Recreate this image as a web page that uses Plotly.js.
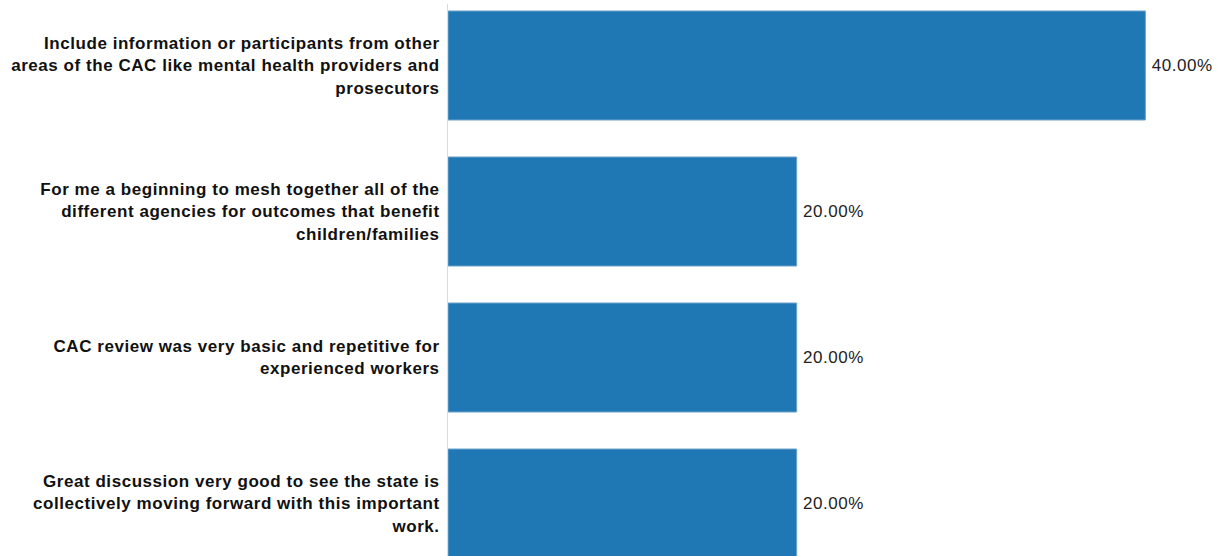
<!DOCTYPE html>
<html>
<head>
<meta charset="utf-8">
<script src="https://cdn.plot.ly/plotly-3.0.1.min.js"></script>
<style>
html,body{margin:0;padding:0;background:#fff;}
#chart{width:1220px;height:556px;}
#chart svg text{letter-spacing:0.55px;}
</style>
</head>
<body>
<div id="chart"></div>
<script>
const categories = [
  "Include information or participants from other<br>areas of the CAC like mental health providers and<br>prosecutors",
  "For me a beginning to mesh together all of the<br>different agencies for outcomes that benefit<br>children/families",
  "CAC review was very basic and repetitive for<br>experienced workers",
  "Great discussion very good to see the state is<br>collectively moving forward with this important<br>work."
];
const values = [0.40, 0.20, 0.20, 0.20];
const valueLabels = ["40.00%", "20.00%", "20.00%", "20.00%"];

const trace = {
  type: 'bar',
  orientation: 'h',
  x: values,
  y: categories,
  text: valueLabels,
  texttemplate: '\u00a0%{text}',
  textposition: 'outside',
  cliponaxis: false,
  textfont: {family: 'Liberation Sans, Arial, sans-serif', size: 17, color: '#222'},
  marker: {color: '#1f77b4', line: {color: '#6fa3cc', width: 1}},
  width: 0.7466,
  hoverinfo: 'none'
};

const layout = {
  width: 1220,
  height: 556,
  margin: {l: 448, r: 0, t: 4, b: 0, pad: 0},
  paper_bgcolor: '#ffffff',
  plot_bgcolor: '#ffffff',
  showlegend: false,
  xaxis: {
    range: [0, 0.4428],
    showgrid: false,
    zeroline: false,
    showticklabels: false,
    ticks: ''
  },
  yaxis: {
    type: 'category',
    range: [3.3596, -0.4212],
    showgrid: false,
    zeroline: false,
    showline: true,
    linecolor: '#d9d9d9',
    linewidth: 1,
    ticks: '',
    ticklabelstandoff: 4,
    tickfont: {family: 'Liberation Sans, Arial, sans-serif', size: 17, color: '#111', weight: 'bold'}
  }
};

Plotly.newPlot('chart', [trace], layout, {displayModeBar: false, staticPlot: true});
</script>
</body>
</html>
